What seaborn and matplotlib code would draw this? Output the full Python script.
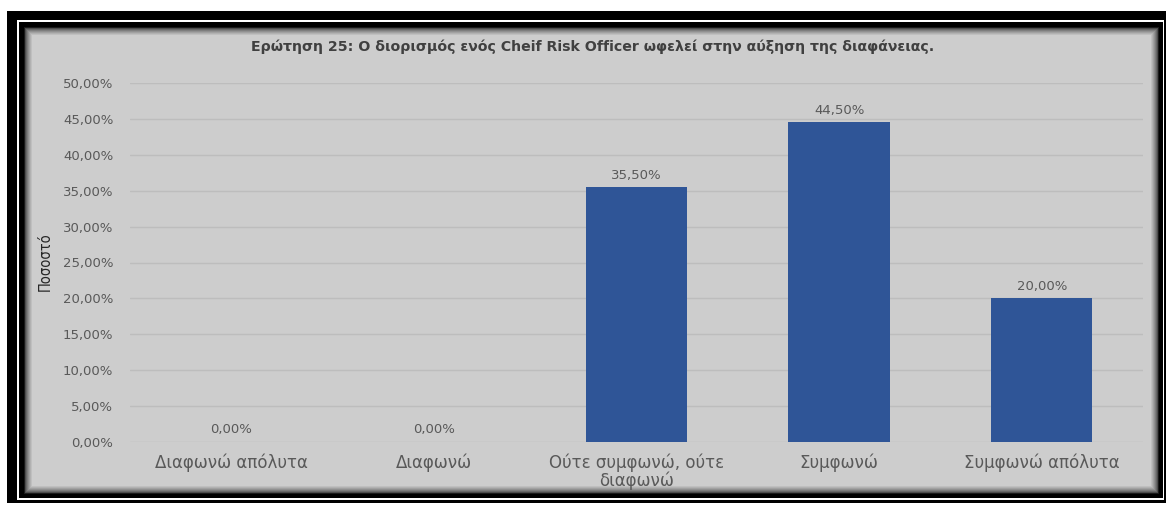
import textwrap

import matplotlib
matplotlib.use("Agg")
import matplotlib.pyplot as plt
from matplotlib.patches import Rectangle
from matplotlib.ticker import MultipleLocator, FuncFormatter
import numpy as np
import pandas as pd
import seaborn as sns

# Survey answers and their shares (%)
categories = [
    "Διαφωνώ απόλυτα",
    "Διαφωνώ",
    "Ούτε συμφωνώ, ούτε διαφωνώ",
    "Συμφωνώ",
    "Συμφωνώ απόλυτα",
]
percentages = [0.0, 0.0, 35.5, 44.5, 20.0]

title_text = "Ερώτηση 25: Ο διορισμός ενός Cheif Risk Officer ωφελεί στην αύξηση της διαφάνειας."
ylabel_text = "Ποσοστό"

W, H = 1166, 505
BG = "#CDCDCD"
BAR = "#2F5597"
GRID = "#BDBDBD"
TICK = "#595959"

sns.set_theme(style="white")
plt.rcParams["font.family"] = ["DejaVu Sans"]

fig = plt.figure(figsize=(W / 100, H / 100), dpi=100)
fig.patch.set_facecolor("white")


def px_rect(x0, y0, x1, y1, color, z):
    fig.patches.append(
        Rectangle((x0 / W, 1 - y1 / H), (x1 - x0) / W, (y1 - y0) / H,
                  transform=fig.transFigure, facecolor=color,
                  edgecolor="none", zorder=z)
    )


# Double black frame with white separator
px_rect(7, 11, 1170, 503, "black", -10)
px_rect(17, 20, 1164, 500, "white", -9)
px_rect(19, 22, 1163, 498, "black", -8)

# Chart area with soft inner shadow
shade = np.linspace(0, 1, 9) ** 0.6
x0, y0, x1, y1 = 24, 27, 1159, 494
for i, t in enumerate(shade):
    c = (1 - t) * np.array([0.10, 0.10, 0.10]) + t * np.array([0.804, 0.804, 0.804])
    px_rect(x0 + i, y0 + i, x1 - i, y1 - i, tuple(c), -7 + i * 0.01)

ax = fig.add_axes([130 / W, (H - 442) / H, (1143 - 130) / W, (442 - 83) / H])
ax.set_facecolor("none")

df = pd.DataFrame({"category": categories, "value": percentages})
sns.barplot(data=df, x="category", y="value", color=BAR, width=0.5,
            saturation=1, ax=ax, zorder=3, edgecolor="none", linewidth=0)

ax.set_ylim(0, 50)
ax.set_xlim(-0.5, len(categories) - 0.5)
ax.yaxis.set_major_locator(MultipleLocator(5))
ax.yaxis.set_major_formatter(
    FuncFormatter(lambda v, _: f"{v:.2f}".replace(".", ",") + "%"))
ax.grid(axis="y", color=GRID, linewidth=1.0, zorder=0)
ax.set_axisbelow(True)
for s in ax.spines.values():
    s.set_visible(False)

ax.set_xticks(range(len(categories)))
ax.set_xticklabels([textwrap.fill(c, 19) for c in categories],
                   fontsize=12, color=TICK, linespacing=1.0)
ax.tick_params(axis="x", length=0, pad=8)
ax.tick_params(axis="y", length=0, pad=12, labelsize=9.5, labelcolor=TICK)
ax.set_xlabel("")
ax.set_ylabel("")

labels = [f"{v:.2f}".replace(".", ",") + "%" for v in percentages]
ax.bar_label(ax.containers[0], labels=labels, padding=4,
             fontsize=9.5, color=TICK)

fig.text(593 / W, 1 - 47 / H, title_text, ha="center", va="center",
         fontsize=10.2, fontweight="bold", color="#404040")
fig.text(45 / W, 1 - 262 / H, ylabel_text, rotation=90, ha="center",
         va="center", fontsize=10.5, color="#262626", fontstretch="condensed",
         family=["Liberation Sans Narrow", "DejaVu Sans"])

fig.savefig("out.png", dpi=100, facecolor=fig.get_facecolor())
